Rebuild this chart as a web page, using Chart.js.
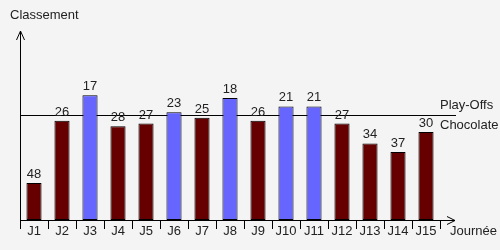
<!DOCTYPE html>
<html>
<head>
<meta charset="utf-8">
<script src="https://cdn.jsdelivr.net/npm/chart.js@4"></script>
<style>
  html, body { margin: 0; padding: 0; background: #f4f4f4; }
  #wrap { width: 500px; height: 250px; }
</style>
</head>
<body>
<div id="wrap"><canvas id="chart"></canvas></div>
<script>
// input data
const journees = ['J1', 'J2', 'J3', 'J4', 'J5', 'J6', 'J7', 'J8', 'J9', 'J10', 'J11', 'J12', 'J13', 'J14', 'J15'];
const classement = [48, 26, 17, 28, 27, 23, 25, 18, 26, 21, 21, 27, 34, 37, 30];
const playOffs = 24;      // limit between play-offs and chocolate
const dernier = 61;       // bottom of the ranking axis

const fontName = '"Liberation Sans", Arial, sans-serif';
const textColor = '#222';
const fontSize = 13;

// axes with arrows, threshold line, value labels
const decorPlugin = {
    id: 'decor',
    beforeDatasetsDraw(chart) {
        const ctx = chart.ctx;
        const area = chart.chartArea;
        const y = chart.scales.y;
        ctx.save();
        ctx.strokeStyle = '#000';
        ctx.lineWidth = 1;
        // y axis
        ctx.beginPath();
        ctx.moveTo(area.left + 0.5, area.bottom + 8);
        ctx.lineTo(area.left + 0.5, area.top);
        ctx.moveTo(area.left - 3.5, area.top + 9);
        ctx.lineTo(area.left + 0.5, area.top);
        ctx.lineTo(area.left + 4.5, area.top + 9);
        // x axis
        ctx.moveTo(area.left, area.bottom + 0.5);
        ctx.lineTo(area.right + 15, area.bottom + 0.5);
        ctx.moveTo(area.right + 7, area.bottom - 3.5);
        ctx.lineTo(area.right + 15, area.bottom + 0.5);
        ctx.lineTo(area.right + 7, area.bottom + 4.5);
        // play-offs line
        const ly = Math.round(y.getPixelForValue(playOffs)) + 0.5;
        ctx.moveTo(area.left, ly);
        ctx.lineTo(area.right + 16, ly);
        ctx.stroke();

        ctx.fillStyle = textColor;
        ctx.font = fontSize + 'px ' + fontName;
        ctx.textBaseline = 'middle';
        ctx.textAlign = 'left';
        ctx.fillText('Classement', 10, 15);
        ctx.fillText('Journée', area.right + 10, 231);
        ctx.fillText('Play-Offs', area.right, ly - 10);
        ctx.fillText('Chocolate', area.right, ly + 10);
        ctx.restore();
    },
    afterDatasetsDraw(chart) {
        const ctx = chart.ctx;
        ctx.save();
        ctx.fillStyle = textColor;
        ctx.font = fontSize + 'px ' + fontName;
        ctx.textAlign = 'center';
        ctx.textBaseline = 'alphabetic';
        chart.getDatasetMeta(0).data.forEach((bar, i) => {
            ctx.fillText(String(classement[i]), bar.x, bar.y - 5);
        });
        ctx.restore();
    }
};

new Chart(document.getElementById('chart'), {
    type: 'bar',
    data: {
        labels: journees,
        datasets: [{
            data: classement,
            base: dernier,
            backgroundColor: c => classement[c.dataIndex] < playOffs ? '#6666ff' : '#660000',
            borderColor: '#000',
            borderWidth: 1,
            borderSkipped: false,
            categoryPercentage: 1,
            barPercentage: 0.54
        }]
    },
    options: {
        responsive: true,
        maintainAspectRatio: false,
        animation: false,
        layout: { padding: { left: 20, right: 60, top: 31, bottom: 0 } },
        plugins: { legend: { display: false }, tooltip: { enabled: false } },
        scales: {
            x: {
                border: { display: false },
                grid: {
                    drawOnChartArea: false,
                    drawTicks: true,
                    tickLength: 9,
                    color: c => c.index === journees.length ? 'rgba(0,0,0,0)' : '#000'
                },
                ticks: {
                    color: textColor,
                    font: { family: fontName, size: fontSize },
                    padding: -5,
                    maxRotation: 0,
                    minRotation: 0,
                    autoSkip: false
                },
                afterFit: s => { s.height = 30; }
            },
            y: {
                display: false,
                reverse: true,
                min: -5.6,
                max: dernier
            }
        }
    },
    plugins: [decorPlugin]
});
</script>
</body>
</html>
